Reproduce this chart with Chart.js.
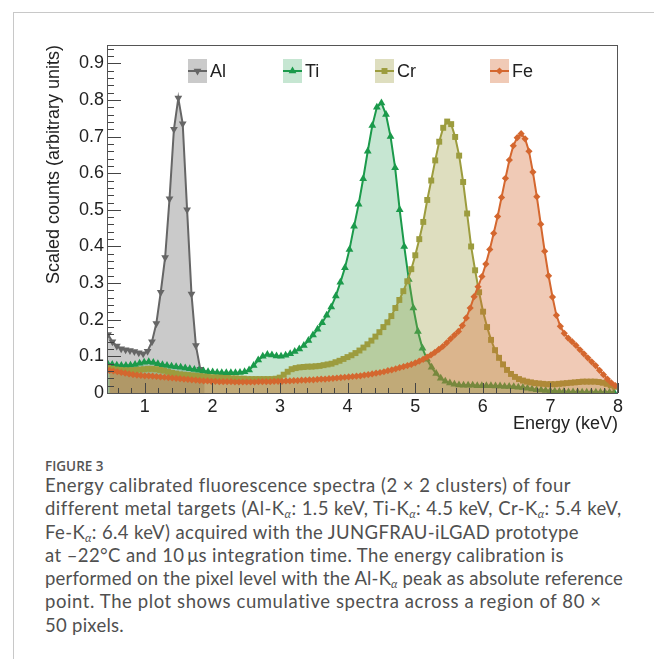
<!DOCTYPE html>
<html>
<head>
<meta charset="utf-8">
<script src="https://cdn.jsdelivr.net/npm/chart.js@4.4.1/dist/chart.umd.min.js"></script>
<style>
  html, body { margin: 0; padding: 0; background: #fff; }
  #page { position: relative; width: 654px; height: 659px; overflow: hidden; }
  #box { position: absolute; left: 13px; top: 12px; width: 700px; height: 700px;
         border-left: 1px solid #c8c8c8; border-top: 1px solid #c8c8c8; }
  #chart { position: absolute; left: 0; top: 0; }
  #figlabel { position: absolute; left: 45px; top: 457px; font: 600 13.5px "Open Sans"; color: #555; }
  #caption { position: absolute; left: 45px; top: 474px; font: 18.5px/23.3px Lato; color: #505050; white-space: nowrap; }
  #caption .ln { display: inline-block; }
  #caption sub { font-size: 11.5px; vertical-align: -3px; line-height: 0; font-style: italic; }
</style>
</head>
<body>
<div id="page">
  <div id="box"></div>
  <canvas id="chart" width="654" height="440"></canvas>
  <div id="figlabel">FIGURE 3</div>
  <div id="caption"><span class="ln" data-w="526">Energy calibrated fluorescence spectra (2 × 2 clusters) of four</span><br><span class="ln" data-w="576">different metal targets (Al-K<sub>α</sub>: 1.5 keV, Ti-K<sub>α</sub>: 4.5 keV, Cr-K<sub>α</sub>: 5.4 keV,</span><br><span class="ln" data-w="534">Fe-K<sub>α</sub>: 6.4 keV) acquired with the JUNGFRAU-iLGAD prototype</span><br><span class="ln" data-w="520">at –22°C and 10&#8201;μs integration time. The energy calibration is</span><br><span class="ln" data-w="578">performed on the pixel level with the Al-K<sub>α</sub> peak as absolute reference</span><br><span class="ln" data-w="557">point. The plot shows cumulative spectra across a region of 80 ×</span><br><span class="ln" data-w="79">50 pixels.</span></div>
</div>
<script>
// histogram binning (first bin centre, bin width in keV) and bin contents
const alStart = 0.455, alStep = 0.065;
const alCounts = [0.160, 0.140, 0.128, 0.121, 0.118, 0.116, 0.113, 0.110, 0.107, 0.114,
  0.140, 0.190, 0.275, 0.370, 0.530, 0.720, 0.805, 0.735, 0.500, 0.270, 0.130, 0.065, 0.040];

const tiStart = 0.45, tiStep = 0.0675;
const tiCounts = [0.080, 0.078, 0.076, 0.075, 0.075, 0.076, 0.078, 0.081, 0.084, 0.085,
  0.083, 0.080, 0.077, 0.075, 0.073, 0.072, 0.070, 0.068, 0.066, 0.064,
  0.062, 0.060, 0.058, 0.057, 0.056, 0.055, 0.055, 0.055, 0.055, 0.056,
  0.058, 0.063, 0.075, 0.090, 0.100, 0.105, 0.104, 0.101, 0.100, 0.103,
  0.107, 0.113, 0.120, 0.130, 0.143, 0.158, 0.174, 0.192, 0.212, 0.235,
  0.265, 0.302, 0.342, 0.392, 0.455, 0.515, 0.585, 0.660, 0.730, 0.780,
  0.792, 0.760, 0.700, 0.615, 0.500, 0.400, 0.310, 0.232, 0.168, 0.122,
  0.092, 0.070, 0.053, 0.040, 0.032, 0.027, 0.024, 0.022, 0.021,
  0.021, 0.021, 0.020, 0.020, 0.020, 0.020, 0.019, 0.019, 0.018, 0.018, 0.017, 0.016, 0.015,
  0.013, 0.011, 0.009, 0.008, 0.007, 0.006, 0.005, 0.004, 0.004, 0.003, 0.003, 0.003,
  0.002, 0.002, 0.002, 0.002, 0.002, 0.002, 0.002, 0.002];

const crStart = 0.458, crStep = 0.059;
const crCounts = [0.068, 0.066, 0.064, 0.063, 0.062, 0.062, 0.062, 0.063, 0.064, 0.065,
  0.066, 0.066, 0.065, 0.063, 0.061, 0.058, 0.055, 0.053, 0.051, 0.050,
  0.049, 0.048, 0.047, 0.046, 0.045, 0.044, 0.043, 0.042, 0.042, 0.041,
  0.041, 0.040, 0.040, 0.039, 0.039, 0.038, 0.038, 0.038, 0.038, 0.038,
  0.038, 0.038, 0.039, 0.042, 0.050, 0.058, 0.065, 0.068, 0.070, 0.071,
  0.072, 0.072, 0.073, 0.074, 0.076, 0.078, 0.080, 0.084, 0.088, 0.093,
  0.098, 0.103, 0.109, 0.116, 0.124, 0.133, 0.143, 0.154, 0.166, 0.180,
  0.193, 0.210, 0.232, 0.254, 0.278, 0.305, 0.338, 0.376, 0.420, 0.467,
  0.527, 0.580, 0.635, 0.686, 0.724, 0.741, 0.734, 0.699, 0.648, 0.576,
  0.490, 0.400, 0.335, 0.275, 0.222, 0.180, 0.145, 0.117, 0.096, 0.078,
  0.063, 0.052, 0.044, 0.038, 0.034, 0.031, 0.029, 0.027, 0.026, 0.025,
  0.024, 0.024, 0.024, 0.025, 0.026, 0.027, 0.028, 0.029, 0.030, 0.031,
  0.031, 0.031, 0.031, 0.030, 0.028, 0.025, 0.021, 0.017];

const feStart = 0.477, feStep = 0.058;
const feCounts = [0.062, 0.060, 0.058, 0.056, 0.054, 0.052, 0.050, 0.049, 0.048, 0.047,
  0.047, 0.046, 0.045, 0.044, 0.043, 0.042, 0.041, 0.040, 0.039, 0.038,
  0.037, 0.036, 0.035, 0.034, 0.033, 0.033, 0.032, 0.032, 0.031, 0.031,
  0.031, 0.031, 0.030, 0.030, 0.030, 0.030, 0.030, 0.030, 0.031, 0.031,
  0.031, 0.031, 0.032, 0.032, 0.032, 0.033, 0.033, 0.034, 0.034, 0.035,
  0.035, 0.036, 0.036, 0.037, 0.038, 0.038, 0.039, 0.040, 0.041, 0.042,
  0.043, 0.044, 0.045, 0.046, 0.047, 0.049, 0.050, 0.052, 0.054, 0.056,
  0.058, 0.061, 0.063, 0.066, 0.069, 0.072, 0.075, 0.078, 0.082, 0.087,
  0.092, 0.098, 0.104, 0.111, 0.119, 0.127, 0.137, 0.148, 0.158, 0.168,
  0.184, 0.205, 0.232, 0.263, 0.290, 0.318, 0.352, 0.392, 0.436, 0.482,
  0.534, 0.586, 0.636, 0.675, 0.697, 0.708, 0.694, 0.660, 0.603, 0.536,
  0.461, 0.387, 0.320, 0.262, 0.212, 0.182, 0.163, 0.150, 0.140, 0.130,
  0.118, 0.107, 0.096, 0.085, 0.075, 0.062, 0.050, 0.038, 0.028, 0.020];

const xTickValues = [1, 2, 3, 4, 5, 6, 7, 8];
const yTickValues = [0, 0.1, 0.2, 0.3, 0.4, 0.5, 0.6, 0.7, 0.8, 0.9];

const FONT = "'Liberation Sans', Arial, sans-serif";

// stretch each caption line to the width it has in the printed figure
function fitCaption() {
    document.querySelectorAll("#caption .ln").forEach((el) => {
        el.style.letterSpacing = "0px";
        const natural = el.getBoundingClientRect().width;
        const n = el.textContent.length;
        el.style.letterSpacing = ((+el.dataset.w - natural) / n).toFixed(3) + "px";
    });
}
fitCaption();
if (document.fonts) document.fonts.ready.then(fitCaption);

function toPoints(start, step, counts) {
    return counts.map((v, i) => ({ x: +(start + i * step).toFixed(4), y: v }));
}

function spectrum(label, start, step, counts, color, fill, marker, rotation, radius, order) {
    return {
        label: label,
        data: toPoints(start, step, counts),
        borderColor: color,
        backgroundColor: fill,
        fill: "origin",
        borderWidth: 2,
        tension: 0,
        pointStyle: marker,
        pointRotation: rotation,
        pointRadius: radius,
        pointBackgroundColor: color,
        pointBorderColor: color,
        pointBorderWidth: 0,
        order: order,
    };
}

// ROOT style frame, inward ticks and in-frame legend
const rootFrame = {
    id: "rootFrame",
    afterDatasetsDraw(chart) {
        const { ctx, chartArea: a, scales: { x, y } } = chart;
        ctx.save();
        ctx.strokeStyle = "#444";
        ctx.lineWidth = 1;
        ctx.beginPath();
        for (let k = 0; k <= 47; k++) {
            const py = Math.round(y.getPixelForValue(k * 0.02)) + 0.5;
            const len = k % 5 === 0 ? 14 : 7;
            ctx.moveTo(a.left, py);
            ctx.lineTo(a.left + len, py);
        }
        for (let k = 3; k <= 40; k++) {
            const px = Math.round(x.getPixelForValue(k * 0.2)) + 0.5;
            const len = k % 5 === 0 ? 10 : 5;
            ctx.moveTo(px, a.bottom);
            ctx.lineTo(px, a.bottom - len);
        }
        ctx.stroke();
        ctx.strokeStyle = "#555";
        ctx.strokeRect(a.left + 0.5, a.top + 0.5, a.right - a.left - 1, a.bottom - a.top);

        // legend
        const legendX = [188, 283, 375, 490];
        chart.data.datasets.forEach((ds, i) => {
            const bx = legendX[i], by = 59, bw = 19, bh = 24;
            const cy = by + bh / 2;
            ctx.fillStyle = ds.backgroundColor;
            ctx.fillRect(bx, by, bw, bh);
            ctx.strokeStyle = ds.borderColor;
            ctx.lineWidth = 2;
            ctx.beginPath();
            ctx.moveTo(bx, cy);
            ctx.lineTo(bx + bw, cy);
            ctx.stroke();
            drawMarker(ctx, ds.pointStyle, ds.pointRotation, bx + bw / 2, cy, ds.pointRadius, ds.borderColor);
            ctx.fillStyle = "#222";
            ctx.font = "18px " + FONT;
            ctx.textBaseline = "middle";
            ctx.textAlign = "left";
            ctx.fillText(ds.label, bx + bw + 3, cy + 1);
        });
        ctx.restore();
    },
};

function drawMarker(ctx, style, rotation, cx, cy, r, color) {
    ctx.save();
    ctx.translate(cx, cy);
    ctx.rotate((rotation || 0) * Math.PI / 180);
    ctx.fillStyle = color;
    ctx.beginPath();
    if (style === "triangle") {
        ctx.moveTo(0, -r);
        ctx.lineTo(r * Math.sqrt(3) / 2, r / 2);
        ctx.lineTo(-r * Math.sqrt(3) / 2, r / 2);
    } else if (style === "rect") {
        const s = r * Math.SQRT1_2;
        ctx.rect(-s, -s, 2 * s, 2 * s);
    } else {
        ctx.moveTo(0, -r);
        ctx.lineTo(r, 0);
        ctx.lineTo(0, r);
        ctx.lineTo(-r, 0);
    }
    ctx.closePath();
    ctx.fill();
    ctx.restore();
}

new Chart(document.getElementById("chart").getContext("2d"), {
    type: "line",
    data: {
        datasets: [
            spectrum("Al", alStart, alStep, alCounts, "#666666", "rgba(102,102,102,0.35)", "triangle", 180, 4.5, 4),
            spectrum("Ti", tiStart, tiStep, tiCounts, "#1b9a4b", "rgba(27,154,75,0.25)", "triangle", 0, 4.5, 3),
            spectrum("Cr", crStart, crStep, crCounts, "#9c9c3e", "rgba(156,156,62,0.33)", "rect", 0, 4.2, 2),
            spectrum("Fe", feStart, feStep, feCounts, "#d4672f", "rgba(212,103,47,0.35)", "rectRot", 0, 3.6, 1),
        ],
    },
    options: {
        responsive: false,
        animation: false,
        events: [],
        layout: { padding: { left: 0, top: 45, right: 36, bottom: 0 } },
        plugins: { legend: { display: false }, tooltip: { enabled: false } },
        scales: {
            x: {
                type: "linear",
                min: 0.44,
                max: 8,
                grid: { display: false, drawTicks: false, tickLength: 0 },
                border: { display: false },
                afterBuildTicks: (axis) => { axis.ticks = xTickValues.map((v) => ({ value: v })); },
                afterFit: (axis) => { axis.height = 47; },
                ticks: {
                    color: "#222",
                    font: { family: FONT, size: 18 },
                    padding: 3,
                    maxRotation: 0,
                    callback: (v) => String(v),
                },
                title: {
                    display: true,
                    text: "Energy (keV)",
                    align: "end",
                    color: "#222",
                    font: { family: FONT, size: 18 },
                    padding: { top: 0, bottom: 5 },
                },
            },
            y: {
                min: 0,
                max: 0.95,
                grid: { display: false, drawTicks: false, tickLength: 0 },
                border: { display: false },
                afterBuildTicks: (axis) => { axis.ticks = yTickValues.map((v) => ({ value: v })); },
                afterFit: (axis) => { axis.width = 107; },
                ticks: {
                    color: "#222",
                    font: { family: FONT, size: 18 },
                    padding: 3,
                    callback: (v) => String(+v.toFixed(1)),
                },
                title: {
                    display: true,
                    text: "Scaled counts (arbitrary units)",
                    align: "end",
                    color: "#222",
                    font: { family: FONT, size: 18 },
                    padding: { top: 43, bottom: 0 },
                },
            },
        },
    },
    plugins: [rootFrame],
});
</script>
</body>
</html>
